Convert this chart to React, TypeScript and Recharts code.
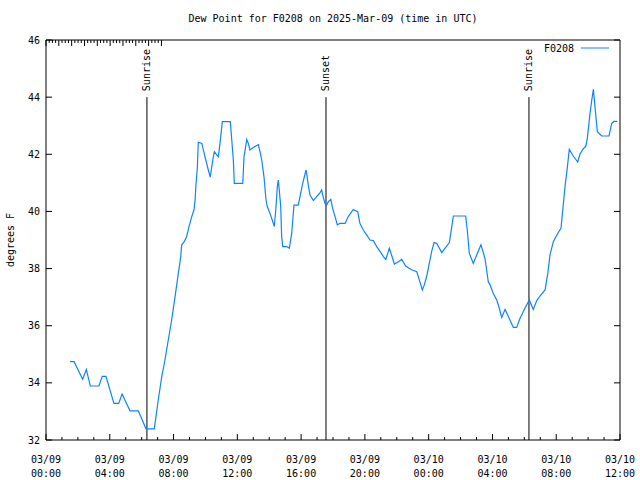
import { LineChart, Line, XAxis, YAxis, ReferenceLine, Legend } from "recharts";

// hours since 03/09 00:00 UTC
const hours = [
  1.51, 1.76, 2.3, 2.53, 2.78, 3.32, 3.53, 3.76, 4.26, 4.56, 4.77, 5.27, 5.79, 6.27, 6.79,
  7.04, 7.26, 7.46, 7.67, 7.88, 8.09, 8.3, 8.45, 8.51, 8.67, 8.82, 8.97, 9.14, 9.28, 9.35,
  9.41, 9.49, 9.55, 9.77, 9.97, 10.18, 10.3, 10.46, 10.56, 10.71, 10.81, 10.91, 11.06, 11.56,
  11.75, 11.81, 12.34, 12.42, 12.54, 12.59, 12.69, 12.79, 13.0, 13.32, 13.42, 13.53, 13.67,
  13.8, 13.88, 14.05, 14.19, 14.32, 14.41, 14.51, 14.57, 14.63, 14.72, 14.78, 14.85, 15.1,
  15.26, 15.41, 15.51, 15.55, 15.82, 15.93, 16.1, 16.31, 16.35, 16.45, 16.56, 16.77, 16.98,
  17.19, 17.29, 17.39, 17.5, 17.6, 17.71, 17.86, 17.98, 18.13, 18.27, 18.44, 18.76, 18.96,
  19.27, 19.55, 19.69, 19.9, 20.11, 20.32, 20.53, 20.74, 20.95, 21.16, 21.31, 21.43, 21.53,
  21.64, 21.85, 22.1, 22.31, 22.56, 22.77, 22.97, 23.25, 23.35, 23.48, 23.6, 23.73, 23.88,
  24.02, 24.19, 24.34, 24.51, 24.82, 25.02, 25.3, 25.45, 25.55, 26.32, 26.42, 26.55, 26.8,
  27.05, 27.28, 27.53, 27.74, 27.85, 28.05, 28.27, 28.43, 28.58, 28.79, 29.0, 29.31, 29.52,
  29.73, 30.04, 30.31, 30.56, 30.78, 30.98, 31.3, 31.47, 31.61, 31.82, 32.09, 32.3, 32.41,
  32.55, 32.68, 32.82, 33.07, 33.35, 33.49, 33.7, 33.85, 33.95, 34.12, 34.23, 34.33, 34.43,
  34.58, 34.85, 35.31, 35.48, 35.62, 35.83,
];

const dewPoint = [
  34.74, 34.74, 34.13, 34.47, 33.89, 33.89, 34.23, 34.23, 33.28, 33.28, 33.61, 33.02, 33.02, 32.39, 32.39,
  33.4, 34.22, 34.8, 35.5, 36.2, 37.0, 37.83, 38.42, 38.83, 38.94, 39.12, 39.47, 39.82, 40.05, 40.4,
  40.98, 41.5, 42.42, 42.38, 41.92, 41.45, 41.2, 41.8, 42.09, 41.98, 41.92, 42.38, 43.14, 43.14,
  41.8, 40.98, 40.98, 41.92, 42.33, 42.52, 42.38, 42.15, 42.24, 42.34, 42.09, 41.8, 41.22,
  40.4, 40.17, 39.93, 39.7, 39.47, 40.05, 40.87, 41.1, 40.75, 40.17, 39.12, 38.77, 38.77,
  38.71, 39.23, 39.93, 40.22, 40.22, 40.52, 40.98, 41.45, 41.33, 40.92, 40.57, 40.38, 40.52,
  40.66, 40.75, 40.49, 40.28, 40.22, 40.34, 40.42, 40.1, 39.82, 39.53, 39.58, 39.58, 39.82,
  40.07, 39.99, 39.58, 39.35, 39.18, 39.0, 38.98, 38.77, 38.6, 38.42, 38.32, 38.53, 38.71,
  38.53, 38.16, 38.24, 38.32, 38.09, 38.01, 37.95, 37.89, 37.72, 37.48, 37.25, 37.43, 37.74,
  38.13, 38.6, 38.91, 38.88, 38.56, 38.71, 38.91, 39.47, 39.84, 39.84, 39.35, 38.53, 38.18,
  38.53, 38.83, 38.36, 37.54, 37.43, 37.13, 36.9, 36.61, 36.29, 36.57, 36.32, 35.94, 35.94,
  36.26, 36.61, 36.9, 36.57, 36.88, 37.04, 37.25, 37.83, 38.48, 38.94, 39.23, 39.41, 40.05,
  40.87, 41.45, 42.17, 41.94, 41.73, 42.01, 42.2, 42.27, 42.56, 43.43, 43.9, 44.27, 43.67,
  42.79, 42.64, 42.64, 43.08, 43.15, 43.15,
];

const tickHours = [0, 4, 8, 12, 16, 20, 24, 28, 32, 36];
const tickDates = ["03/09", "03/09", "03/09", "03/09", "03/09", "03/09", "03/10", "03/10", "03/10", "03/10"];
const tickTimes = ["00:00", "04:00", "08:00", "12:00", "16:00", "20:00", "00:00", "04:00", "08:00", "12:00"];
const minorHours = Array.from({ length: 37 }, (_, i) => i);
const yTicks = [32, 34, 36, 38, 40, 42, 44, 46];

const sunLabels = ["Sunrise", "Sunset", "Sunrise"];
const sunHours = [6.33, 17.56, 30.29];
const markerTop = 44;

const FONT = "'DejaVu Sans Mono', monospace";
const BLUE = "#0d84ff";
const MAJOR = 6;
const MINOR = 3;

const data = hours.map((h, i) => ({ h, v: dewPoint[i] }));

// bottom axis: inward tick plus two-line date/time label on majors
function BottomTick(props: any) {
  const { x, y, payload } = props;
  const i = tickHours.indexOf(payload.value);
  const len = i >= 0 ? MAJOR : MINOR;
  return (
    <g>
      <line x1={x} x2={x} y1={y} y2={y - len} stroke="#000" />
      {i >= 0 && (
        <>
          <text x={x} y={y + 23} textAnchor="middle" fontSize={10} fontFamily={FONT} fill="#000">
            {tickDates[i]}
          </text>
          <text x={x} y={y + 37} textAnchor="middle" fontSize={10} fontFamily={FONT} fill="#000">
            {tickTimes[i]}
          </text>
        </>
      )}
    </g>
  );
}

function TopTick(props: any) {
  const { x, y, payload } = props;
  const len = tickHours.includes(payload.value) ? MAJOR : MINOR;
  return <line x1={x} x2={x} y1={y} y2={y + len} stroke="#000" />;
}

function LeftTick(props: any) {
  const { x, y, payload } = props;
  return (
    <g>
      <line x1={x} x2={x + MAJOR} y1={y} y2={y} stroke="#000" />
      <text x={x - 6} y={y} textAnchor="end" dominantBaseline="central" fontSize={10} fontFamily={FONT} fill="#000">
        {payload.value}
      </text>
    </g>
  );
}

function RightTick(props: any) {
  const { x, y } = props;
  return <line x1={x} x2={x - MAJOR} y1={y} y2={y} stroke="#000" />;
}

function sunLabel(text: string) {
  return (p: any) => {
    const vx = p.viewBox.x;
    const vy = p.viewBox.y - 6;
    return (
      <text
        x={vx}
        y={vy}
        transform={`rotate(-90 ${vx} ${vy})`}
        textAnchor="start"
        dominantBaseline="central"
        fontSize={10}
        fontFamily={FONT}
        fill="#000"
      >
        {text}
      </text>
    );
  };
}

function yLabel(p: any) {
  const lx = p.viewBox.x + 10;
  const ly = p.viewBox.y + p.viewBox.height / 2;
  return (
    <text
      x={lx}
      y={ly}
      transform={`rotate(-90 ${lx} ${ly})`}
      textAnchor="middle"
      dominantBaseline="central"
      fontSize={10}
      fontFamily={FONT}
      fill="#000"
    >
      degrees F
    </text>
  );
}

function LegendBox() {
  return (
    <svg width={90} height={16}>
      <text x={39} y={8} textAnchor="end" dominantBaseline="central" fontSize={10} fontFamily={FONT} fill="#000">
        F0208
      </text>
      <line x1={46} x2={74} y1={8} y2={8} stroke={BLUE} strokeWidth={1} />
    </svg>
  );
}

export default function App() {
  const frame = { stroke: "#000", strokeWidth: 1 };
  return (
    <div style={{ position: "absolute", left: 0, top: 0, width: 640, height: 480, background: "#fff" }}>
      <div
        style={{
          position: "absolute",
          left: 46,
          width: 574,
          top: 14,
          textAlign: "center",
          fontFamily: FONT,
          fontSize: 10,
          lineHeight: "10px",
          color: "#000",
          zIndex: 1,
        }}
      >
        Dew Point for F0208 on 2025-Mar-09 (time in UTC)
      </div>
      <LineChart width={640} height={480} data={data} margin={{ top: 0, right: 0, bottom: 0, left: 0 }}>
        <XAxis
          dataKey="h"
          type="number"
          domain={[0, 36]}
          allowDataOverflow
          ticks={minorHours}
          interval={0}
          height={40}
          tickSize={0}
          tickMargin={0}
          tickLine={false}
          axisLine={frame}
          tick={(p: any) => <BottomTick {...p} />}
        />
        <XAxis
          xAxisId="top"
          orientation="top"
          type="number"
          domain={[0, 36]}
          allowDataOverflow
          ticks={minorHours}
          interval={0}
          height={40}
          tickSize={0}
          tickMargin={0}
          tickLine={false}
          axisLine={frame}
          tick={(p: any) => <TopTick {...p} />}
        />
        <YAxis
          type="number"
          domain={[32, 46]}
          allowDataOverflow
          ticks={yTicks}
          interval={0}
          width={46}
          tickSize={0}
          tickMargin={0}
          tickLine={false}
          axisLine={frame}
          tick={(p: any) => <LeftTick {...p} />}
          label={yLabel}
        />
        <YAxis
          yAxisId="right"
          orientation="right"
          type="number"
          domain={[32, 46]}
          allowDataOverflow
          ticks={yTicks}
          interval={0}
          width={20}
          tickSize={0}
          tickMargin={0}
          tickLine={false}
          axisLine={frame}
          tick={(p: any) => <RightTick {...p} />}
        />
        {sunHours.map((h, i) => (
          <ReferenceLine
            key={i}
            segment={[
              { x: h, y: 32 },
              { x: h, y: markerTop },
            ]}
            stroke="#000"
            strokeWidth={1}
            label={sunLabel(sunLabels[i])}
          />
        ))}
        <Line
          type="linear"
          dataKey="v"
          stroke={BLUE}
          strokeWidth={1.2}
          dot={false}
          activeDot={false}
          isAnimationActive={false}
        />
        <Legend
          layout="vertical"
          align="center"
          verticalAlign="middle"
          wrapperStyle={{ top: 40, left: 535, width: 90, height: 16 }}
          content={() => <LegendBox />}
        />
      </LineChart>
    </div>
  );
}
